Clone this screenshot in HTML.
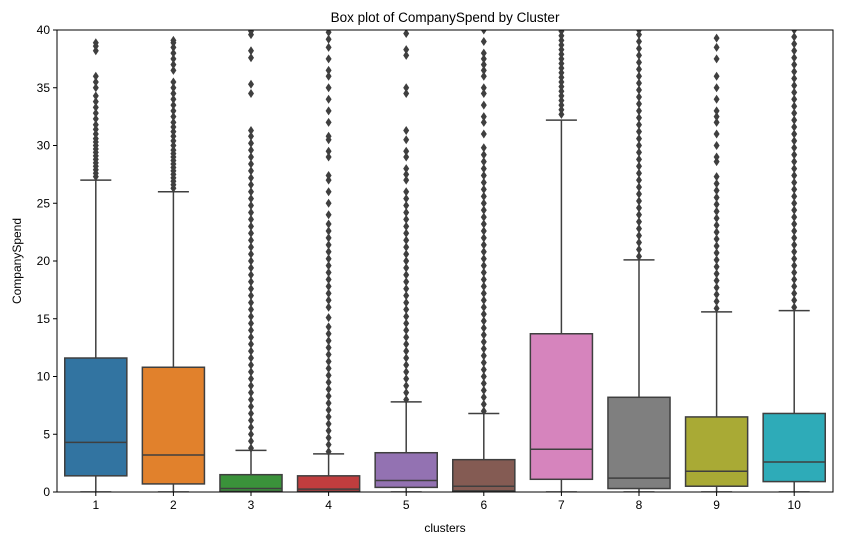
<!DOCTYPE html>
<html><head><meta charset="utf-8"><style>
html,body{margin:0;padding:0;background:#fff;}
svg{display:block;font-family:"Liberation Sans",sans-serif;}
</style></head><body>
<svg id="chart" width="842" height="545" viewBox="0 0 842 545">
<defs><clipPath id="pc"><rect x="57" y="30" width="776" height="462"/></clipPath></defs>
<text x="445" y="22" text-anchor="middle" font-size="13.5" fill="#000">Box plot of CompanySpend by Cluster</text>
<text x="445" y="532" text-anchor="middle" font-size="12" fill="#000">clusters</text>
<text transform="translate(21,261) rotate(-90)" text-anchor="middle" font-size="12" fill="#000">CompanySpend</text>
<g id="marks" clip-path="url(#pc)"></g>
<g id="axes"></g>
</svg>
<script>
const categories = ["1","2","3","4","5","6","7","8","9","10"];
const q1 = [1.4,0.7,0.05,0.05,0.4,0.1,1.1,0.3,0.5,0.9];
const medians = [4.3,3.2,0.3,0.25,1.0,0.5,3.7,1.2,1.8,2.6];
const q3 = [11.6,10.8,1.5,1.4,3.4,2.8,13.7,8.2,6.5,6.8];
const whiskerLow = [0,0,0,0,0,0,0,0,0,0];
const whiskerHigh = [27.0,26.0,3.6,3.3,7.8,6.8,32.2,20.1,15.6,15.7];
const colors = ["#3274a1","#e1812c","#3a923a","#c03d3e","#9372b2","#845b53","#d684bd","#7f7f7f","#a9aa35","#2eabb8"];
const yTicks = [0,5,10,15,20,25,30,35,40];
const outliers = [
[27.3,27.6,27.9,28.2,28.5,28.8,29.1,29.4,29.7,30,30.3,30.6,31,31.4,31.8,32.3,32.8,33.3,33.8,34.3,35,35.5,36,38.2,38.6,38.9],
[26.3,26.6,26.9,27.2,27.5,27.8,28.1,28.4,28.7,29,29.3,29.6,30,30.4,30.8,31.2,31.6,32,32.5,33,33.5,34,34.5,35,35.5,36.5,37,37.5,38,38.5,38.9,39.1],
[3.8,4.4,5,5.6,6.2,6.8,7.4,8,8.6,9.2,9.8,10.4,11,11.6,12.2,12.8,13.4,14,14.6,15.2,15.8,16.4,17,17.6,18.2,18.8,19.4,20,20.6,21.2,21.8,22.4,23,23.6,24.2,24.8,25.4,26,26.6,27.2,27.8,28.4,29,29.6,30.2,30.8,31.3,34.5,35.3,37.6,38.2,39.6,39.9],
[3.5,4.1,4.7,5.3,5.9,6.5,7.1,7.7,8.3,8.9,9.5,10.1,10.7,11.3,11.9,12.5,13.1,13.7,14.3,15.1,16,16.6,17.2,17.8,18.4,19,19.6,20.2,20.8,21.4,22,22.6,23.2,24,25,26,27,27.4,29,29.5,30.5,30.8,32,33,34,35,36,36.5,37.5,38.5,39.2,39.8],
[8,8.6,9.2,9.8,10.4,11,11.6,12.2,12.8,13.4,14,14.6,15.2,15.8,16.4,17,17.6,18.2,18.8,19.4,20,20.6,21.2,21.8,22.4,23,23.6,24.2,24.8,25.4,26,27,27.5,28,29,29.5,30.5,31.3,34.5,35,37.8,38.3,39.7],
[7,7.6,8.2,8.8,9.4,10,10.6,11.2,11.8,12.4,13,13.6,14.2,14.8,15.4,16,16.6,17.2,17.8,18.4,19,19.6,20.2,20.8,21.4,22,22.6,23.2,23.8,24.4,25,25.6,26.2,26.8,27.4,28,28.6,29.2,29.8,31,32,32.5,33.5,34.5,35,36,36.5,37,37.5,38,39,40],
[32.7,33.1,33.5,33.9,34.3,34.7,35.1,35.5,35.9,36.3,36.7,37.1,37.5,37.9,38.3,38.7,39.1,39.5,39.9],
[20.4,21,21.6,22.2,22.8,23.4,24,24.6,25.2,25.8,26.4,27,27.6,28.2,28.8,29.4,30,30.6,31.2,31.8,32.4,33,33.6,34.2,34.8,35.4,36,36.6,37.2,37.8,38.4,39,39.6,40],
[15.9,16.5,17.1,17.7,18.3,18.9,19.5,20.1,20.7,21.3,21.9,22.5,23.1,23.7,24.3,24.9,25.5,26.1,26.7,27.3,28.6,29,30,31,32,32.5,33,34,35,36,37.5,38.5,39.3],
[16,16.6,17.2,17.8,18.4,19,19.6,20.2,20.8,21.4,22,22.6,23.2,23.8,24.4,25,25.6,26.2,26.8,27.4,28,28.6,29.2,29.8,30.4,31,31.6,32.2,32.8,33.4,34,34.6,35.2,35.8,36.4,37,37.6,38.2,38.8,39.4,40]
];

const NS="http://www.w3.org/2000/svg";
const X0=57,X1=833,Y0=492,Y1=30,YMAX=40;
const band=(X1-X0)/categories.length;
const xc=i=>X0+band*(i+0.5);
const y=v=>Y0-(v/YMAX)*(Y0-Y1);
const edge="#3f3f3f";
function mk(tag,attrs,parent){const e=document.createElementNS(NS,tag);for(const k in attrs)e.setAttribute(k,attrs[k]);parent.appendChild(e);return e;}
const marks=document.getElementById("marks"),axes=document.getElementById("axes");
const bw=band*0.8;
categories.forEach((c,i)=>{
  const g=mk("g",{},marks);
  
  
  const cx=xc(i);
  const w1=mk("line",{x1:cx,x2:cx,y1:y(q3[i]),y2:y(whiskerHigh[i]),stroke:edge,"stroke-width":1.5},g);
  
  
  const w2=mk("line",{x1:cx,x2:cx,y1:y(q1[i]),y2:y(whiskerLow[i]),stroke:edge,"stroke-width":1.5},g);
  
  
  [whiskerHigh[i],whiskerLow[i]].forEach(v=>{
    const cap=mk("line",{x1:cx-bw/4,x2:cx+bw/4,y1:y(v),y2:y(v),stroke:edge,"stroke-width":1.5},g);
    
    
  });
  const r=mk("rect",{x:cx-bw/2,y:y(q3[i]),width:bw,height:y(q1[i])-y(q3[i]),fill:colors[i],stroke:edge,"stroke-width":1.5},g);
  
  
  const m=mk("line",{x1:cx-bw/2,x2:cx+bw/2,y1:y(medians[i]),y2:y(medians[i]),stroke:edge,"stroke-width":1.5},g);
  
  
  outliers[i].forEach(v=>{
    const py=y(v);
    const d=mk("path",{d:`M${cx} ${py-4.5}L${cx+3} ${py}L${cx} ${py+4.5}L${cx-3} ${py}Z`,fill:edge},g);
    
    
  });
});
const frame=mk("rect",{x:X0,y:Y1,width:X1-X0,height:Y0-Y1,fill:"none",stroke:"#000","stroke-width":1},axes);


yTicks.forEach(t=>{
  const ty=y(t);
  const l=mk("line",{x1:X0-4,x2:X0,y1:ty,y2:ty,stroke:"#000"},axes);
  
  
  const tx=mk("text",{x:X0-7,y:ty+4,"text-anchor":"end","font-size":12,fill:"#000"},axes);
  tx.textContent=t;
  
  
});
categories.forEach((c,i)=>{
  const cx=xc(i);
  const l=mk("line",{x1:cx,x2:cx,y1:Y0,y2:Y0+4,stroke:"#000"},axes);
  
  
  const tx=mk("text",{x:cx,y:Y0+17,"text-anchor":"middle","font-size":12,fill:"#000"},axes);
  tx.textContent=c;
  
  
});
</script>
</body></html>
